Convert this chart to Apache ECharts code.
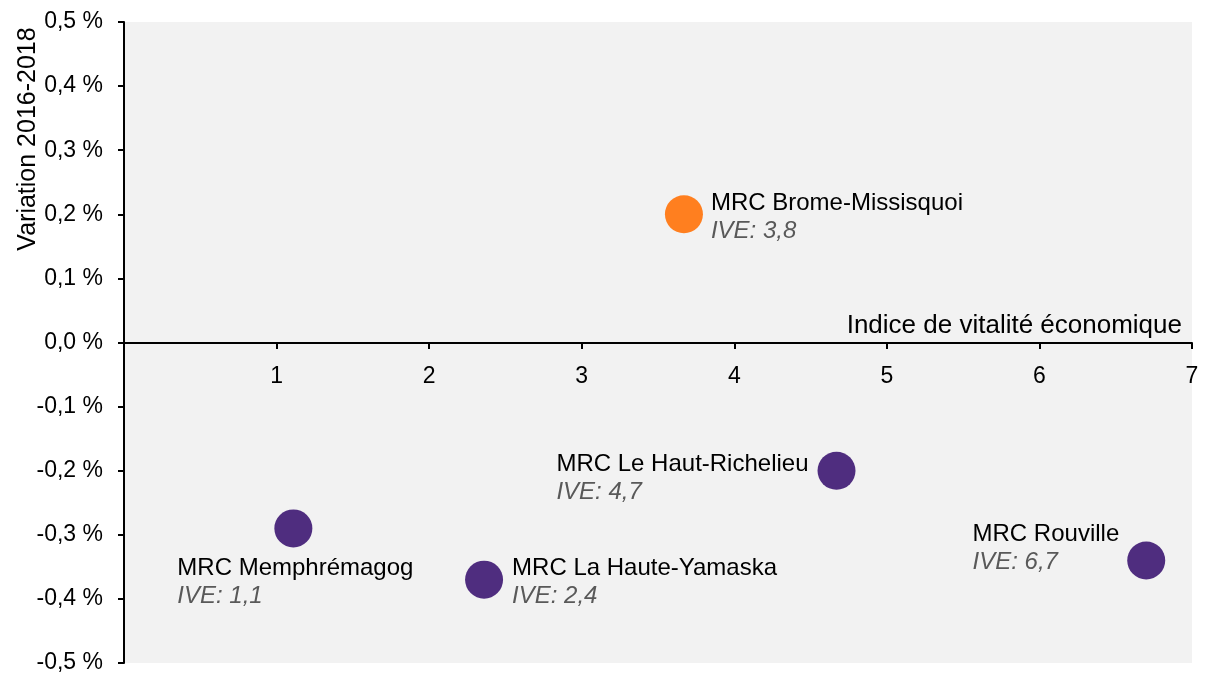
<!DOCTYPE html>
<html>
<head>
<meta charset="utf-8">
<script src="https://cdn.jsdelivr.net/npm/echarts@6/dist/echarts.min.js"></script>
<style>
  html, body { margin: 0; padding: 0; background: #fff; }
  #chart { width: 1208px; height: 673px; }
</style>
</head>
<body>
<div id="chart"></div>
<script>
// MRC data
const names = ["MRC Brome-Missisquoi", "MRC Le Haut-Richelieu", "MRC Rouville", "MRC Memphrémagog", "MRC La Haute-Yamaska"];
const iveValues = [3.67, 4.67, 6.7, 1.11, 2.36];
const iveLabels = ["3,8", "4,7", "6,7", "1,1", "2,4"];
const variation = [0.2, -0.2, -0.34, -0.29, -0.37];
const pointColors = ["#FF7F1F", "#4F2D7F", "#4F2D7F", "#4F2D7F", "#4F2D7F"];

const font = "Liberation Sans, Arial, sans-serif";
const labelFs = 24;
const tickFs = 23;
const nameFs = 25;

// where each label sits relative to its dot
const labelPlace = [
  { position: "right", distance: 8, offset: [0, 3] },
  { position: "left", distance: 9, offset: [0, 8] },
  { position: "left", distance: 8, offset: [0, -12] },
  { position: "bottom", distance: 7, offset: [2, 0] },
  { position: "right", distance: 9, offset: [0, 3] },
];

const seriesData = names.map(function (n, i) {
  return {
    name: n,
    value: [iveValues[i], variation[i]],
    itemStyle: { color: pointColors[i], opacity: 1 },
    label: {
      show: true,
      color: "#000",
      position: labelPlace[i].position,
      distance: labelPlace[i].distance,
      offset: labelPlace[i].offset,
      formatter: "{n|" + n + "}\n{i|IVE: " + iveLabels[i] + "}",
      rich: {
        n: { fontFamily: font, fontSize: labelFs, color: "#000", lineHeight: 28, align: "left" },
        i: { fontFamily: font, fontSize: labelFs, color: "#595959", fontStyle: "italic", lineHeight: 28, align: "left" },
      },
    },
  };
});

const chart = echarts.init(document.getElementById("chart"));
const option = {
  animation: false,
  grid: {
    left: 124,
    right: 16,
    top: 22,
    bottom: 10,
    outerBoundsMode: "none",
    show: true,
    backgroundColor: "#f2f2f2",
    borderWidth: 0,
  },
  graphic: [
    {
      type: "text",
      x: 28,
      y: 139,
      rotation: Math.PI / 2,
      style: {
        text: "Variation 2016-2018",
        fontFamily: font,
        fontSize: nameFs,
        fill: "#000",
        align: "center",
        verticalAlign: "middle",
      },
    },
  ],
  xAxis: {
    type: "value",
    min: 0,
    max: 7,
    interval: 1,
    // sit the axis on the 0 % line
    offset: -320,
    name: "Indice de vitalité économique",
    nameLocation: "end",
    nameGap: -10,
    nameTextStyle: {
      fontFamily: font,
      fontSize: 26,
      color: "#000",
      align: "right",
      verticalAlign: "bottom",
      padding: [0, 0, 4, 0],
    },
    splitLine: { show: false },
    axisLine: { onZero: false, lineStyle: { color: "#000", width: 2 } },
    axisTick: { show: true, length: 6, lineStyle: { color: "#000", width: 2 } },
    axisLabel: {
      showMinLabel: false,
      margin: 22,
      fontFamily: font,
      fontSize: tickFs,
      color: "#000",
    },
  },
  yAxis: {
    type: "value",
    min: -0.5,
    max: 0.5,
    interval: 0.1,
    splitLine: { show: false },
    axisLine: { show: true, onZero: false, lineStyle: { color: "#000", width: 2 } },
    axisTick: { show: true, length: 6, lineStyle: { color: "#000", width: 2 } },
    axisLabel: {
      margin: 21,
      padding: [5, 0, 0, 0],
      fontFamily: font,
      fontSize: tickFs,
      color: "#000",
      formatter: function (v) {
        let s = (Math.abs(v) < 1e-9 ? 0 : v).toFixed(1).replace(".", ",");
        return s + " %";
      },
    },
  },
  series: [
    {
      type: "scatter",
      symbol: "circle",
      symbolSize: 38,
      data: seriesData,
    },
  ],
};
chart.setOption(option);
</script>
</body>
</html>
